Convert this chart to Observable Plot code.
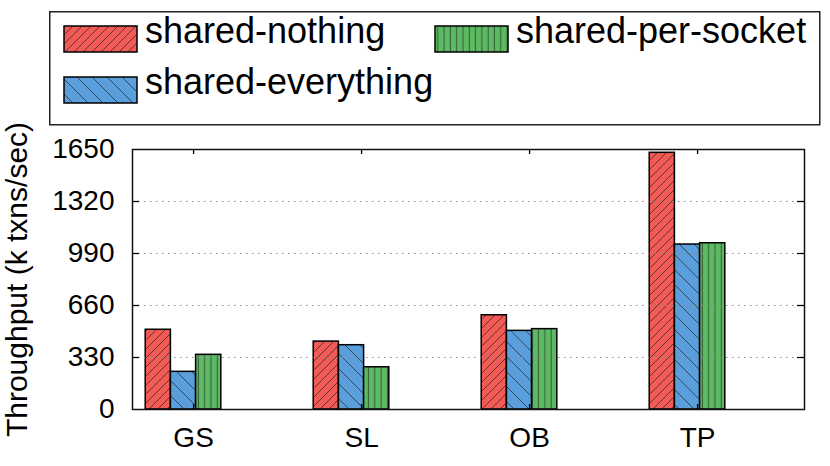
<!DOCTYPE html>
<html>
<head>
<meta charset="utf-8">
<script src="https://cdn.jsdelivr.net/npm/d3@7"></script>
<script src="https://cdn.jsdelivr.net/npm/@observablehq/plot@0.6"></script>
<style>
html, body { margin: 0; padding: 0; background: #fff; }
#wrap { position: relative; width: 830px; height: 466px; font-family: "Liberation Sans", Arial, Helvetica, sans-serif; }
#chart { position: absolute; left: 0; top: 0; }
#legend { position: absolute; left: 0; top: 0; }
g[aria-label="ylabel"] text { letter-spacing: 1px; }
</style>
</head>
<body>
<svg id="defs" width="0" height="0" style="position:absolute;left:0;top:0"><defs></defs></svg>
<div id="wrap">
  <div id="chart"></div>
  <svg id="legend" width="830" height="130"></svg>
</div>
<script>
// ---- data ----
const categories = ["GS", "SL", "OB", "TP"];
const seriesNames = ["shared-nothing", "shared-everything", "shared-per-socket"];
const sharedNothing = [506, 431, 598, 1629];
const sharedEverything = [239, 408, 499, 1047];
const sharedPerSocket = [347, 268, 510, 1055];
const yTicks = [0, 330, 660, 990, 1320, 1650];
const gridTicks = [330, 660, 990, 1320];
const colors = ["#f15a55", "#5a9fdb", "#5cba62"];
const yLabel = "Throughput (k txns/sec)";

const FONT = '"Liberation Sans", Arial, Helvetica, sans-serif';

// ---- hatch patterns ----
const defs = d3.select("#defs defs");
function addPattern(id, w, h, color, d) {
  const p = defs.append("pattern").attr("id", id).attr("patternUnits", "userSpaceOnUse")
    .attr("width", w).attr("height", h);
  p.append("rect").attr("width", w).attr("height", h).attr("fill", color);
  p.append("path").attr("d", d).attr("stroke", "#222").attr("stroke-opacity", 0.85)
    .attr("stroke-width", 0.8).attr("fill", "none");
}
addPattern("pat0", 9, 9, colors[0], "M-1,1 L1,-1 M0,9 L9,0 M8,10 L10,8");
addPattern("pat1", 15, 15, colors[1], "M-1,14 L1,16 M0,0 L15,15 M14,-1 L16,1");
addPattern("pat2", 6.3, 10, colors[2], "M3,0 V10");

// ---- table ----
const seriesValues = [sharedNothing, sharedEverything, sharedPerSocket];
const barW = 0.15;
const labelOffset = 0.06;
const xDomain = [-0.3036, 3.6964];
const yDomain = [0, 1650];
const plotW = 830 - 132 - 26, plotH = 466 - 149 - 57;
const tickLenX = 7 * (xDomain[1] - xDomain[0]) / plotW;   // 7px inward, in data units
const tickLenY = 5 * (yDomain[1] - yDomain[0]) / plotH;   // 5px inward, in data units
const rows = [];
seriesValues.forEach((vals, j) => vals.forEach((v, i) => rows.push({cat: categories[i], i, j, series: seriesNames[j], value: v})));
const catPos = categories.map((c, i) => i + labelOffset);
const innerYTicks = yTicks.slice(1, -1);

const barMarks = seriesNames.map((s, j) =>
  Plot.rectY(rows.filter(d => d.j === j), {
    x1: d => d.i + (d.j - 1.5) * barW,
    x2: d => d.i + (d.j - 0.5) * barW,
    y1: 0,
    y2: "value",
    fill: `url(#pat${j})`,
    stroke: "#000",
    strokeWidth: 1.5
  })
);

const plot = Plot.plot({
  width: 830,
  height: 466,
  marginLeft: 132,
  marginRight: 26,
  marginTop: 149,
  marginBottom: 57,
  x: {type: "linear", domain: xDomain, axis: null},
  y: {domain: yDomain, axis: null},
  style: {fontFamily: FONT, background: "#fff", color: "#000", overflow: "visible"},
  marks: [
    ...barMarks,
    Plot.gridY(gridTicks, {stroke: "#888", strokeOpacity: 1, strokeWidth: 1.2, strokeDasharray: "1.5,4.5"}),
    // inward ticks (left, right, bottom, top)
    Plot.ruleY(innerYTicks, {x1: xDomain[0], x2: xDomain[0] + tickLenX, stroke: "#000", strokeWidth: 1.3}),
    Plot.ruleY(innerYTicks, {x1: xDomain[1] - tickLenX, x2: xDomain[1], stroke: "#000", strokeWidth: 1.3}),
    Plot.ruleX(catPos, {y1: yDomain[0], y2: yDomain[0] + tickLenY, stroke: "#000", strokeWidth: 1.3}),
    Plot.ruleX(catPos, {y1: yDomain[1] - tickLenY, y2: yDomain[1], stroke: "#000", strokeWidth: 1.3}),
    Plot.axisY(yTicks, {anchor: "left", tickSize: 0, tickPadding: 18, fontSize: 28, label: null, tickFormat: d => String(d)}),
    Plot.axisX(catPos, {anchor: "bottom", tickSize: 0, tickPadding: 18, fontSize: 28, label: null,
      tickFormat: d => categories[Math.round(d - labelOffset)]}),
    Plot.text([yLabel], {text: d => d, frameAnchor: "left", textAnchor: "middle", lineAnchor: "middle",
      dx: -115, rotate: -90, fontSize: 30, ariaLabel: "ylabel"}),
    Plot.frame({stroke: "#111", strokeWidth: 1.5})
  ]
});
document.getElementById("chart").appendChild(plot);

// ---- legend ----
const legend = d3.select("#legend");
legend.append("rect").attr("x", 49.75).attr("y", 11.75).attr("width", 770).attr("height", 113)
  .attr("fill", "#fff").attr("stroke", "#222").attr("stroke-width", 1.5);
const legendSlots = [[64, 26], [64, 77], [435, 26]]; // per series: nothing, everything, per-socket
seriesNames.forEach((name, j) => {
  const [sx, sy] = legendSlots[j];
  legend.append("rect").attr("x", sx).attr("y", sy).attr("width", 73).attr("height", 26)
    .attr("fill", `url(#pat${j})`).attr("stroke", "#000").attr("stroke-width", 1.5);
  legend.append("text").attr("x", sx + 81).attr("y", sy + 17)
    .attr("font-family", FONT).attr("font-size", 36).attr("fill", "#000").text(name);
});
</script>
</body>
</html>
